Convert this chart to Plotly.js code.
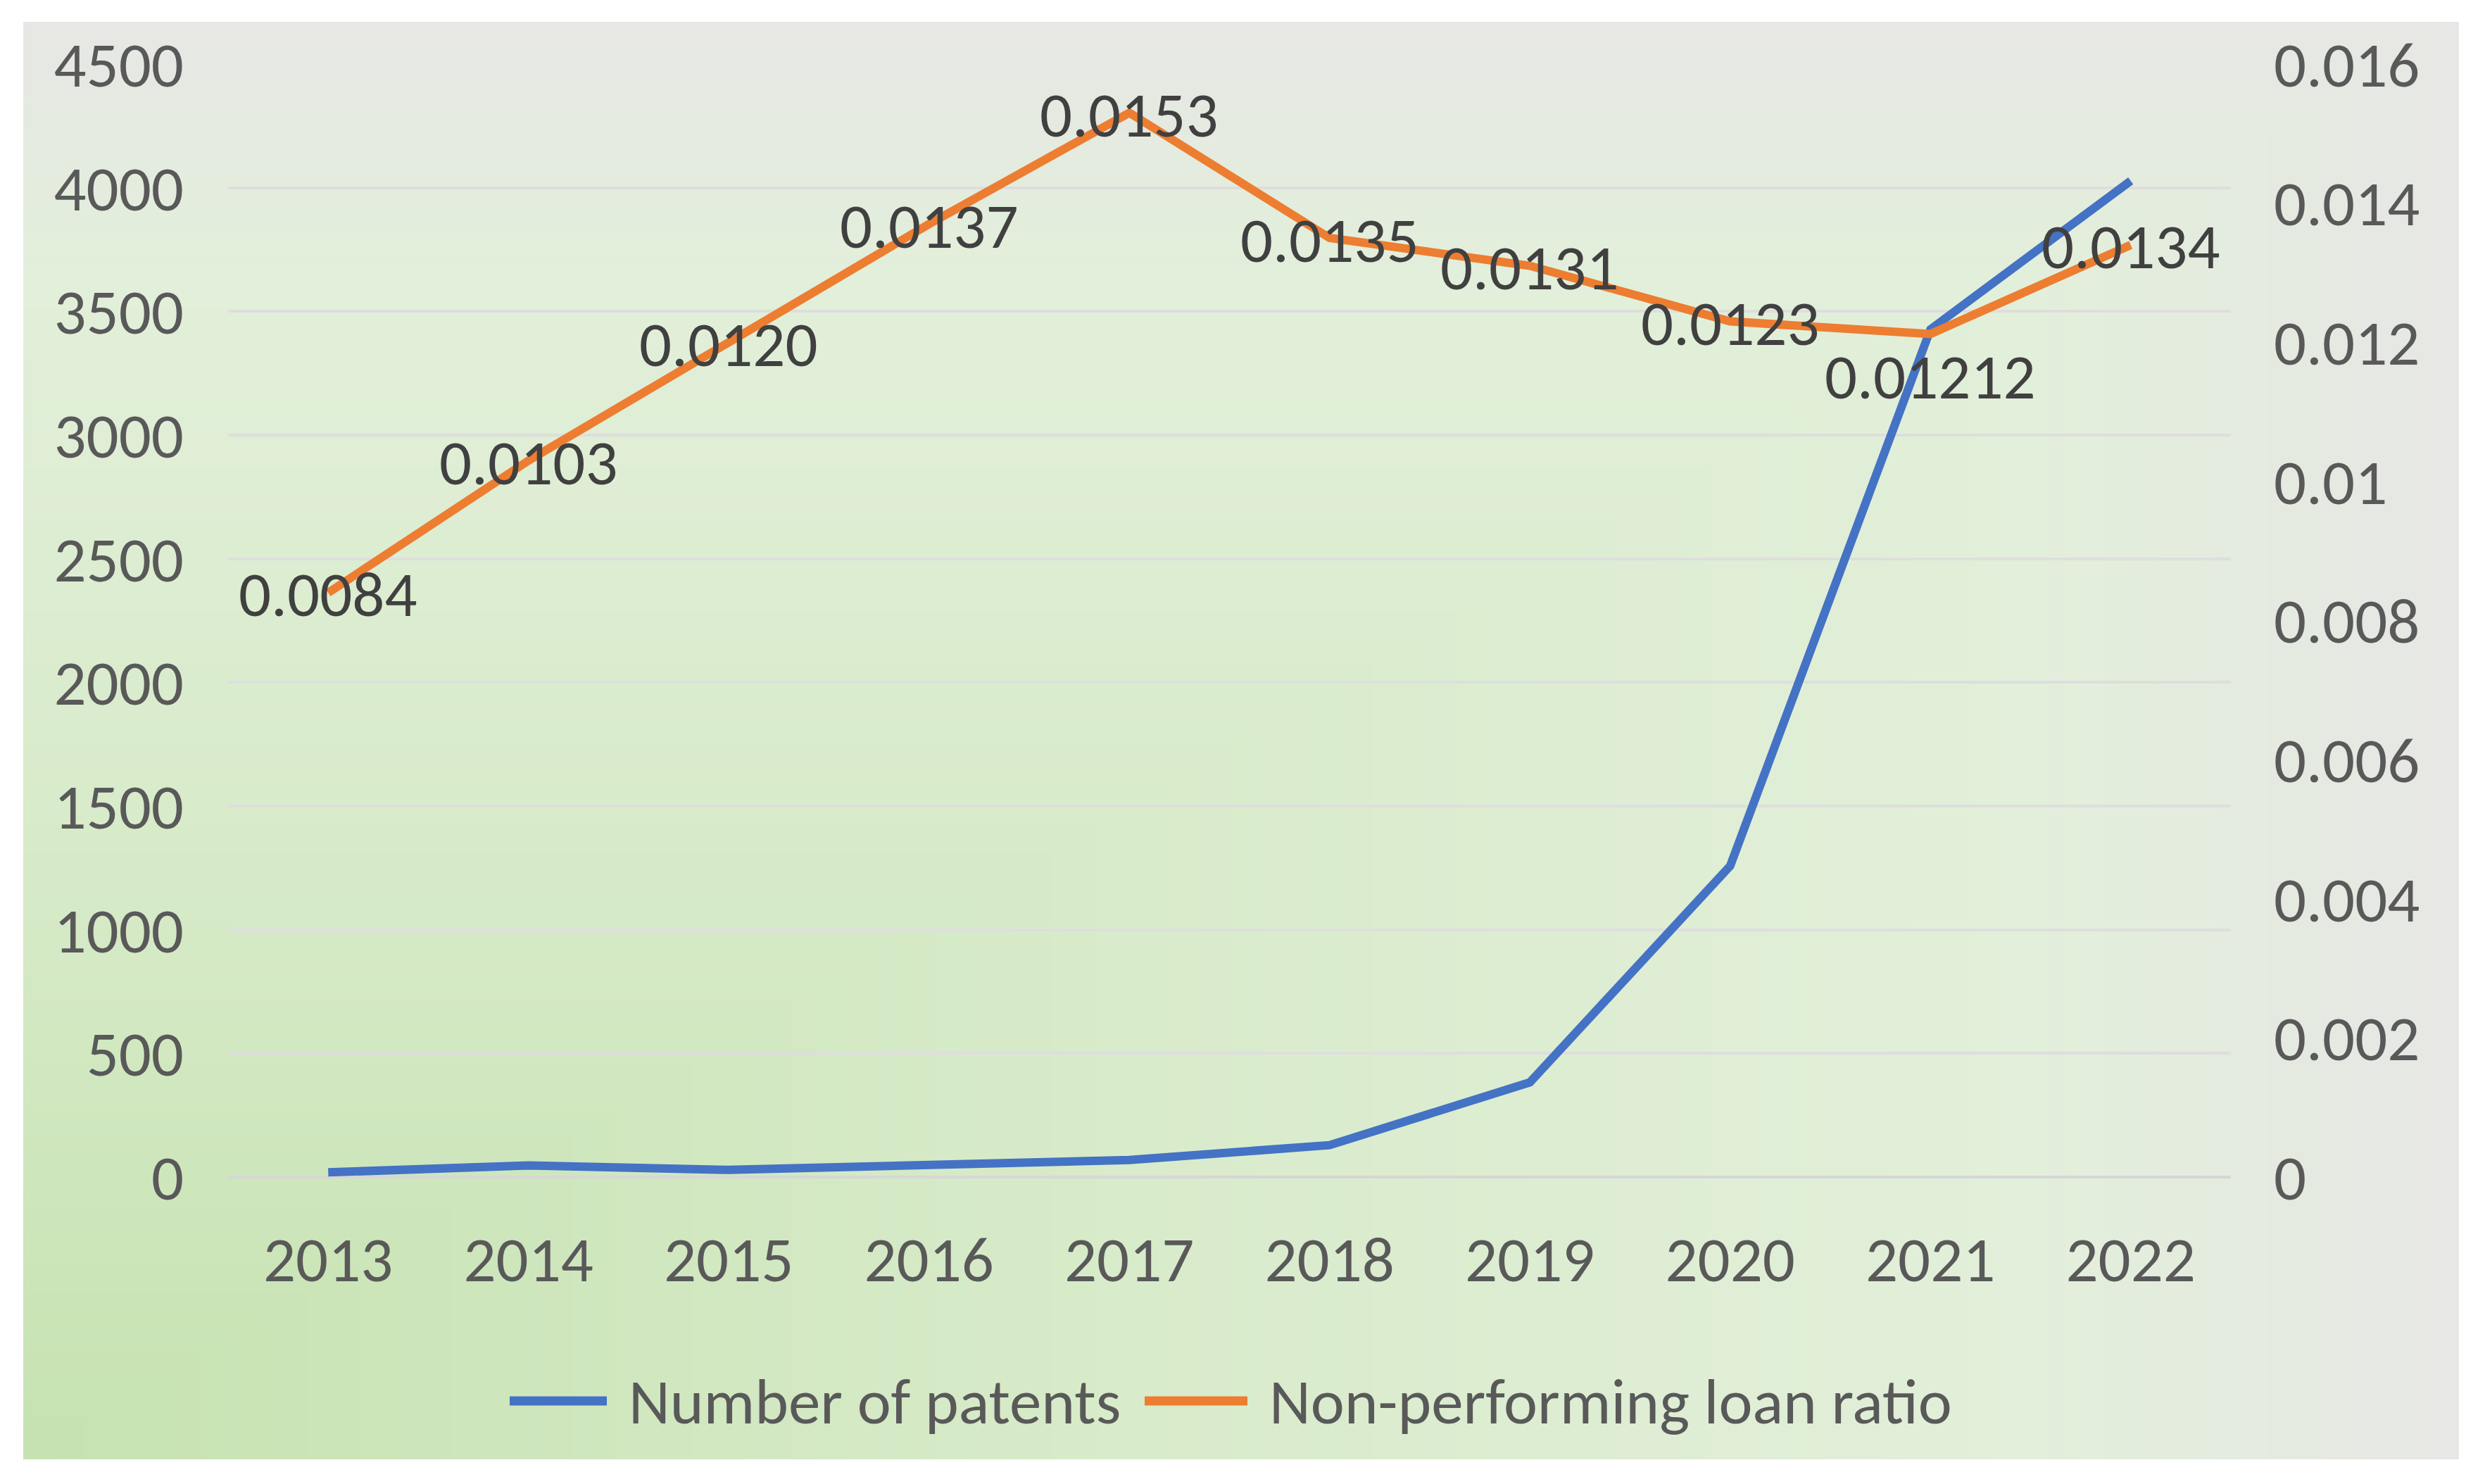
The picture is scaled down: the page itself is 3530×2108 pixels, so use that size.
<!DOCTYPE html>
<html>
<head>
<meta charset="utf-8">
<script src="https://cdn.plot.ly/plotly-3.0.1.min.js"></script>
<style>
html,body{margin:0;padding:0;background:#ffffff;width:3530px;height:2108px;overflow:hidden;}
#bg{position:absolute;left:33px;top:31px;}
#chart{position:absolute;left:0;top:0;width:3530px;height:2108px;}
</style>
</head>
<body>
<canvas id="bg" width="3460" height="2042"></canvas>
<div id="chart"></div>
<script>
// ---- data ----
const years = ['2013','2014','2015','2016','2017','2018','2019','2020','2021','2022'];
const patents = [19, 47, 29, 49, 69, 129, 383, 1258, 3427, 4028];
const nplRatio = [0.0084, 0.0103, 0.0120, 0.0137, 0.0153, 0.0135, 0.0131, 0.0123, 0.01212, 0.0134];
const nplLabels = ['0.0084','0.0103','0.0120','0.0137','0.0153','0.0135','0.0131','0.0123','0.01212','0.0134'];
const leftTickVals = [0, 500, 1000, 1500, 2000, 2500, 3000, 3500, 4000, 4500];
const rightTickVals = [0, 0.002, 0.004, 0.006, 0.008, 0.01, 0.012, 0.014, 0.016];
const rightTickText = ['0','0.002','0.004','0.006','0.008','0.01','0.012','0.014','0.016'];
const seriesNames = ['Number of patents', 'Non-performing loan ratio'];

// ---- background (rectangular path gradient from bottom-left corner) ----
(function(){
  const cv = document.getElementById('bg');
  const ctx = cv.getContext('2d');
  const W = cv.width, H = cv.height;
  const img = ctx.createImageData(W, H);
  const d = img.data;
  const stops = [[0,[198,226,177]],[0.45,[216,235,202]],[0.82,[226,239,218]],[1,[231,231,229]]];
  const N = 1024, lut = new Uint8Array(N*3);
  for (let i=0;i<N;i++){
    const t = i/(N-1);
    let k=0; while (k<stops.length-2 && t>stops[k+1][0]) k++;
    const a=stops[k], b=stops[k+1];
    const f=(t-a[0])/(b[0]-a[0]);
    for (let c=0;c<3;c++) lut[i*3+c]=Math.round(a[1][c]+(b[1][c]-a[1][c])*f);
  }
  for (let y=0;y<H;y++){
    const v=(H-1-y)/(H-1);
    for (let x=0;x<W;x++){
      const u=x/(W-1);
      const t=u>v?u:v;
      const li=Math.round(t*(N-1))*3;
      const p=(y*W+x)*4;
      d[p]=lut[li]; d[p+1]=lut[li+1]; d[p+2]=lut[li+2]; d[p+3]=255;
    }
  }
  ctx.putImageData(img,0,0);
})();

// ---- chart ----
const FONT = 'Carlito, Calibri, Lato, sans-serif';
const FS = 91;
const M = {l:324, r:361, t:91, b:436};
const PW = 3530 - M.l - M.r, PH = 2108 - M.t - M.b;
const px2x = px => (px - M.l) / PW;
const px2y = py => (2108 - M.b - py) / PH;

const colors = ['#4472C4', '#ED7D31'];

const traces = [
  {
    x: years, y: patents, name: seriesNames[0], type: 'scatter', mode: 'lines',
    line: {color: colors[0], width: 12}, yaxis: 'y', showlegend: false, hoverinfo: 'skip'
  },
  {
    x: years, y: nplRatio, name: seriesNames[1], type: 'scatter', mode: 'lines',
    line: {color: colors[1], width: 12}, yaxis: 'y2', showlegend: false, hoverinfo: 'skip'
  }
];

// data labels, anchored on the data points of the second series
// (annotation x on a category axis = the category's serial number)
const dataLabels = nplLabels.map((t, i) => ({
  xref: 'x', yref: 'y2', x: years.indexOf(years[i]), y: nplRatio[i], text: t,
  showarrow: false, xanchor: 'center', yanchor: 'middle',
  yshift: i === 8 ? -60 : -2,
  font: {family: FONT, size: FS, color: '#404040'}
}));

const legY = 1990;
const legend = [
  {x0: 724, x1: 862, tx: 891, name: seriesNames[0], color: colors[0]},
  {x0: 1626, x1: 1772, tx: 1801, name: seriesNames[1], color: colors[1]}
];

const layout = {
  width: 3530, height: 2108,
  margin: {l: M.l, r: M.r, t: M.t, b: M.b, pad: 0, autoexpand: false},
  paper_bgcolor: 'rgba(0,0,0,0)',
  plot_bgcolor: 'rgba(0,0,0,0)',
  font: {family: FONT, size: FS, color: '#595959'},
  showlegend: false,
  xaxis: {
    type: 'category', range: [-0.5, 9.5], showgrid: false, zeroline: false, showline: false,
    ticks: '', tickfont: {family: FONT, size: FS, color: '#595959'}, ticklabelstandoff: 56,
    fixedrange: true
  },
  yaxis: {
    range: [0, 4500], tickvals: leftTickVals, showgrid: true, gridcolor: '#dedede', gridwidth: 4,
    zeroline: true, zerolinecolor: '#d6d6d6', zerolinewidth: 4, showline: false, ticks: '',
    tickfont: {family: FONT, size: FS, color: '#595959'}, ticklabelstandoff: 62, fixedrange: true
  },
  yaxis2: {
    range: [0, 0.016], overlaying: 'y', side: 'right', tickvals: rightTickVals, ticktext: rightTickText,
    showgrid: false, zeroline: false, showline: false, ticks: '',
    tickfont: {family: FONT, size: FS, color: '#595959'}, ticklabelstandoff: 60, fixedrange: true
  },
  shapes: legend.map(l => ({
    type: 'line', xref: 'paper', yref: 'paper',
    x0: px2x(l.x0), x1: px2x(l.x1), y0: px2y(legY), y1: px2y(legY),
    line: {color: l.color, width: 13}
  })),
  annotations: dataLabels.concat(legend.map(l => ({
    xref: 'paper', yref: 'paper', x: px2x(l.tx), y: px2y(legY),
    xanchor: 'left', yanchor: 'middle', showarrow: false, text: l.name,
    font: {family: FONT, size: FS, color: '#595959'}
  })))
};

Plotly.newPlot('chart', traces, layout, {displayModeBar: false, staticPlot: true});
</script>
</body>
</html>
